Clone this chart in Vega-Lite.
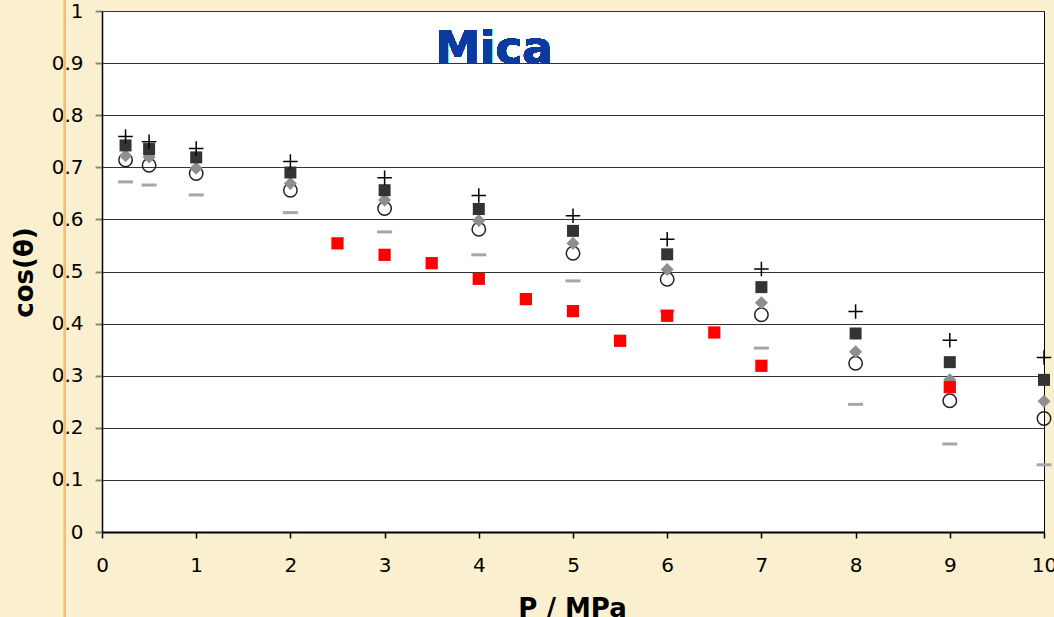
{
  "$schema": "https://vega.github.io/schema/vega-lite/v6.json",
  "width": 942,
  "height": 521,
  "autosize": "none",
  "padding": {"left": 102, "top": 11, "right": 10, "bottom": 85},
  "background": "#faf0d0",
  "config": {
    "view": {"fill": "white", "stroke": "black", "strokeWidth": 1},
    "font": "DejaVu Sans"
  },
  "data": {
    "values": [
      {"P": 0.25, "cos": 0.759, "s": "series 1"},
      {"P": 0.5, "cos": 0.749, "s": "series 1"},
      {"P": 1, "cos": 0.736, "s": "series 1"},
      {"P": 2, "cos": 0.711, "s": "series 1"},
      {"P": 3, "cos": 0.680, "s": "series 1"},
      {"P": 4, "cos": 0.646, "s": "series 1"},
      {"P": 5, "cos": 0.607, "s": "series 1"},
      {"P": 6, "cos": 0.562, "s": "series 1"},
      {"P": 7, "cos": 0.505, "s": "series 1"},
      {"P": 8, "cos": 0.423, "s": "series 1"},
      {"P": 9, "cos": 0.368, "s": "series 1"},
      {"P": 10, "cos": 0.335, "s": "series 1"},
      {"P": 0.25, "cos": 0.742, "s": "series 2"},
      {"P": 0.5, "cos": 0.735, "s": "series 2"},
      {"P": 1, "cos": 0.719, "s": "series 2"},
      {"P": 2, "cos": 0.690, "s": "series 2"},
      {"P": 3, "cos": 0.656, "s": "series 2"},
      {"P": 4, "cos": 0.620, "s": "series 2"},
      {"P": 5, "cos": 0.578, "s": "series 2"},
      {"P": 6, "cos": 0.533, "s": "series 2"},
      {"P": 7, "cos": 0.470, "s": "series 2"},
      {"P": 8, "cos": 0.381, "s": "series 2"},
      {"P": 9, "cos": 0.326, "s": "series 2"},
      {"P": 10, "cos": 0.292, "s": "series 2"},
      {"P": 0.25, "cos": 0.722, "s": "series 3"},
      {"P": 0.5, "cos": 0.720, "s": "series 3"},
      {"P": 1, "cos": 0.698, "s": "series 3"},
      {"P": 2, "cos": 0.669, "s": "series 3"},
      {"P": 3, "cos": 0.637, "s": "series 3"},
      {"P": 4, "cos": 0.598, "s": "series 3"},
      {"P": 5, "cos": 0.554, "s": "series 3"},
      {"P": 6, "cos": 0.504, "s": "series 3"},
      {"P": 7, "cos": 0.440, "s": "series 3"},
      {"P": 8, "cos": 0.346, "s": "series 3"},
      {"P": 9, "cos": 0.292, "s": "series 3"},
      {"P": 10, "cos": 0.251, "s": "series 3"},
      {"P": 0.25, "cos": 0.714, "s": "series 4"},
      {"P": 0.5, "cos": 0.704, "s": "series 4"},
      {"P": 1, "cos": 0.688, "s": "series 4"},
      {"P": 2, "cos": 0.656, "s": "series 4"},
      {"P": 3, "cos": 0.621, "s": "series 4"},
      {"P": 4, "cos": 0.581, "s": "series 4"},
      {"P": 5, "cos": 0.535, "s": "series 4"},
      {"P": 6, "cos": 0.485, "s": "series 4"},
      {"P": 7, "cos": 0.417, "s": "series 4"},
      {"P": 8, "cos": 0.324, "s": "series 4"},
      {"P": 9, "cos": 0.252, "s": "series 4"},
      {"P": 10, "cos": 0.218, "s": "series 4"},
      {"P": 0.25, "cos": 0.672, "s": "series 5"},
      {"P": 0.5, "cos": 0.666, "s": "series 5"},
      {"P": 1, "cos": 0.647, "s": "series 5"},
      {"P": 2, "cos": 0.613, "s": "series 5"},
      {"P": 3, "cos": 0.576, "s": "series 5"},
      {"P": 4, "cos": 0.532, "s": "series 5"},
      {"P": 5, "cos": 0.482, "s": "series 5"},
      {"P": 6, "cos": 0.424, "s": "series 5"},
      {"P": 7, "cos": 0.353, "s": "series 5"},
      {"P": 8, "cos": 0.245, "s": "series 5"},
      {"P": 9, "cos": 0.169, "s": "series 5"},
      {"P": 10, "cos": 0.129, "s": "series 5"},
      {"P": 2.5, "cos": 0.554, "s": "series 6"},
      {"P": 3, "cos": 0.532, "s": "series 6"},
      {"P": 3.5, "cos": 0.516, "s": "series 6"},
      {"P": 4, "cos": 0.486, "s": "series 6"},
      {"P": 4.5, "cos": 0.447, "s": "series 6"},
      {"P": 5, "cos": 0.424, "s": "series 6"},
      {"P": 5.5, "cos": 0.367, "s": "series 6"},
      {"P": 6, "cos": 0.415, "s": "series 6"},
      {"P": 6.5, "cos": 0.383, "s": "series 6"},
      {"P": 7, "cos": 0.319, "s": "series 6"},
      {"P": 9, "cos": 0.278, "s": "series 6"}
    ]
  },
  "encoding": {
    "x": {
      "field": "P",
      "type": "quantitative",
      "scale": {"domain": [0, 10], "nice": false, "zero": true},
      "axis": {
        "values": [0, 1, 2, 3, 4, 5, 6, 7, 8, 9, 10],
        "grid": false,
        "domainColor": "black",
        "domainWidth": 2,
        "tickColor": "black",
        "tickSize": 6,
        "tickWidth": 1.5,
        "labelFont": "DejaVu Sans",
        "labelFontSize": 20,
        "labelColor": "black",
        "labelPadding": 17,
        "labelFlush": false,
        "title": "P / MPa",
        "titleFont": "DejaVu Sans",
        "titleFontSize": 26,
        "titleFontWeight": "bold",
        "titleColor": "black",
        "titleBaseline": "alphabetic",
        "titleX": 470,
        "titleY": 84
      }
    },
    "y": {
      "field": "cos",
      "type": "quantitative",
      "scale": {"domain": [0, 1], "nice": false},
      "axis": {
        "values": [0, 0.1, 0.2, 0.3, 0.4, 0.5, 0.6, 0.7, 0.8, 0.9, 1],
        "format": ".1~f",
        "grid": true,
        "gridColor": "#333333",
        "gridWidth": 1,
        "domainColor": "black",
        "domainWidth": 1.5,
        "tickColor": "#888888",
        "tickSize": 7,
        "tickWidth": 2,
        "labelFont": "DejaVu Sans",
        "labelFontSize": 20,
        "labelColor": "black",
        "labelPadding": 12,
        "labelFlush": false,
        "title": "cos(θ)",
        "titleFont": "DejaVu Sans",
        "titleFontSize": 26,
        "titleFontWeight": "bold",
        "titleColor": "black",
        "titleAngle": -90,
        "titleAlign": "center",
        "titleBaseline": "middle",
        "titleX": -78,
        "titleY": 261
      }
    }
  },
  "layer": [
    {
      "mark": {"type": "rule", "color": "#f7be7a", "strokeWidth": 2, "clip": false},
      "encoding": {
        "x": {"datum": -0.393, "type": "quantitative", "scale": {"domain": [0, 10], "nice": false}},
        "y": {"datum": -0.17, "type": "quantitative", "scale": {"domain": [0, 1], "nice": false}},
        "y2": {"datum": 1.03}
      }
    },
    {
      "mark": {"type": "text", "text": "Mica", "font": "DejaVu Sans", "fontSize": 45, "fontWeight": "bold", "color": "#0b3b9f", "align": "center", "baseline": "alphabetic"},
      "encoding": {
        "x": {"datum": 4.16, "type": "quantitative"},
        "y": {"datum": 0.9, "type": "quantitative"}
      }
    },
    {
      "transform": [{"filter": "datum.s === 'series 4'"}],
      "mark": {"type": "point", "shape": "circle", "filled": false, "stroke": "#222222", "strokeWidth": 1.5, "size": 180, "opacity": 1}
    },
    {
      "transform": [{"filter": "datum.s === 'series 3'"}],
      "mark": {"type": "point", "shape": "diamond", "filled": true, "color": "#8e8e8e", "size": 170, "opacity": 1}
    },
    {
      "transform": [{"filter": "datum.s === 'series 2'"}],
      "mark": {"type": "point", "shape": "square", "filled": true, "color": "#333333", "size": 144, "opacity": 1}
    },
    {
      "transform": [{"filter": "datum.s === 'series 1'"}],
      "mark": {"type": "point", "shape": "M-1,0L1,0M0,-1L0,1", "filled": false, "stroke": "black", "strokeWidth": 1.5, "size": 210, "opacity": 1}
    },
    {
      "transform": [{"filter": "datum.s === 'series 5'"}],
      "mark": {"type": "point", "shape": "M-1,0L1,0", "filled": false, "stroke": "#a6a6a6", "strokeWidth": 3, "size": 225, "opacity": 1}
    },
    {
      "transform": [{"filter": "datum.s === 'series 6'"}],
      "mark": {"type": "point", "shape": "square", "filled": true, "color": "#ff0000", "size": 150, "opacity": 1}
    }
  ]
}
